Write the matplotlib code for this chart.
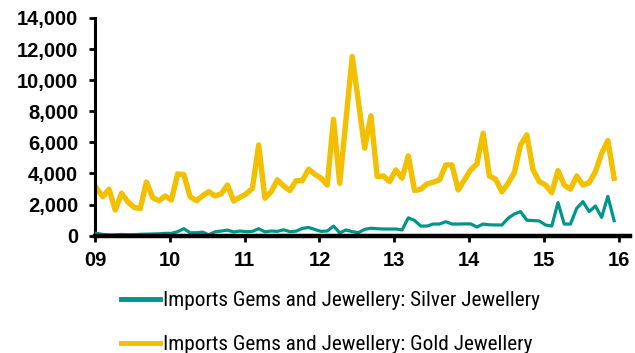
import matplotlib
matplotlib.use("Agg")
import matplotlib.pyplot as plt
import numpy as np
from matplotlib import font_manager as fm
from matplotlib.ticker import FuncFormatter

gold = [
    3050, 2510, 2990, 1650, 2730, 2190, 1830, 1740, 3450, 2450, 2250, 2550,   # 2009
    2300, 3970, 3930, 2510, 2250, 2560, 2830, 2560, 2690, 3260, 2230, 2470,   # 2010
    2690, 3050, 5840, 2410, 2830, 3590, 3200, 2900, 3540, 3540, 4280, 3950,   # 2011
    3700, 3260, 7490, 3370, 7450, 11530, 8600, 5630, 7710, 3800, 3840, 3480,  # 2012
    4230, 3700, 5130, 2900, 2990, 3330, 3440, 3590, 4550, 4550, 2940, 3590,   # 2013
    4230, 4620, 6590, 3840, 3630, 2830, 3370, 4060, 5840, 6480, 4230, 3480,   # 2014
    3260, 2770, 4190, 3260, 2990, 3840, 3260, 3410, 4120, 5300, 6120, 3700,   # 2015
]
silver = [
    150, 80, 50, 60, 80, 60, 70, 90, 100, 110, 120, 150,                      # 2009
    150, 260, 450, 190, 190, 230, 60, 250, 300, 360, 240, 300,                # 2010
    260, 280, 450, 250, 300, 280, 380, 260, 290, 470, 530, 400,               # 2011
    280, 300, 620, 180, 370, 260, 190, 410, 480, 450, 430, 430,               # 2012
    430, 370, 1150, 980, 620, 620, 750, 750, 900, 750, 750, 760,              # 2013
    760, 560, 750, 700, 690, 690, 1120, 1400, 1550, 1000, 970, 950,           # 2014
    690, 620, 2130, 750, 750, 1760, 2190, 1550, 1910, 1180, 2530, 970,        # 2015
]
start_year = 2009
tick_years = list(range(2009, 2017))
tick_labels = ["09", "10", "11", "12", "13", "14", "15", "16"]
y_ticks = list(range(0, 14001, 2000))
series_names = ["Imports Gems and Jewellery: Silver Jewellery",
                "Imports Gems and Jewellery: Gold Jewellery"]

available = set(f.name for f in fm.fontManager.ttflist)
narrow_pref = ["Liberation Sans Narrow", "Arial Narrow", "Roboto Condensed",
               "Archivo Narrow", "PT Sans Narrow", "Liberation Sans"]
narrow = [f for f in narrow_pref if f in available] + ["DejaVu Sans"]

n = len(gold)
x = start_year + (np.arange(n) + 0.25) / 12.0

GOLD = "#F2C000"
TEAL = "#00958A"

fig = plt.figure(figsize=(6.35, 3.53), dpi=100)
ax = fig.add_axes([95/635, 1 - 235.7/353, (630-95)/635, (235.7-18)/353])

l1, = ax.plot(x, silver, color=TEAL, lw=2.3, solid_joinstyle="round", zorder=3)
l2, = ax.plot(x, gold, color=GOLD, lw=3.9, solid_joinstyle="round", zorder=2)

ax.set_xlim(2009, 2016.15)
ax.set_ylim(0, 14000)
ax.set_xticks(tick_years)
ax.set_xticklabels(tick_labels)
ax.set_yticks(y_ticks)
ax.yaxis.set_major_formatter(FuncFormatter(lambda v, p: f"{int(v):,}"))

for s in ["top", "right"]:
    ax.spines[s].set_visible(False)
ax.spines["left"].set_linewidth(2.2)
ax.spines["bottom"].set_linewidth(3.2)
ax.spines["bottom"].set_zorder(4)
ax.tick_params(axis="both", direction="out", length=4, width=2, color="black")
ax.tick_params(axis="x", pad=7)
ax.tick_params(axis="y", pad=8)
for lab in ax.get_xticklabels() + ax.get_yticklabels():
    lab.set_fontfamily(["Liberation Sans", "DejaVu Sans"])
    lab.set_fontweight("bold")
    lab.set_fontsize(14.5)

leg = fig.legend([l1, l2], series_names, loc="upper left",
                 bbox_to_anchor=(112/635, 1 - 283/353), frameon=False,
                 prop={"family": narrow, "size": 15.3},
                 handlelength=1.85, handletextpad=0.15, labelspacing=1.15,
                 borderaxespad=0)
for h in leg.legend_handles:
    h.set_linewidth(3.5)

fig.savefig("out.png", dpi=100)
